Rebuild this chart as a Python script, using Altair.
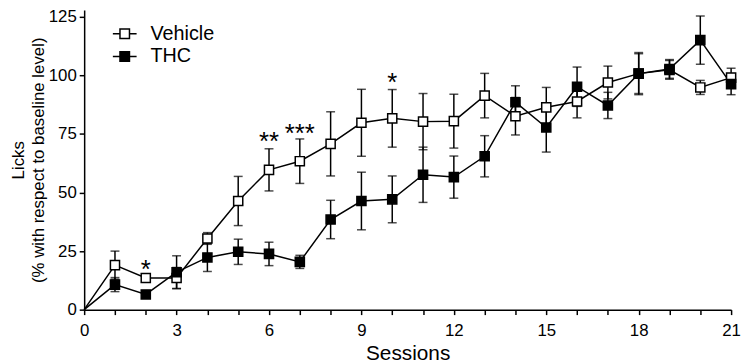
import altair as alt
import pandas as pd

# ---- data ----
sessions = list(range(1, 22))
groups = ["Vehicle", "THC"]
vehicle_mean = [19.0, 13.5, 13.5, 30.4, 46.4, 59.7, 63.4, 70.8, 79.8, 81.7, 80.3,
                80.5, 91.4, 82.6, 86.4, 88.9, 97.0, 100.8, 102.4, 94.9, 99.1]
vehicle_sem = [6.0, 1.5, 4.5, 2.5, 10.5, 9.0, 9.5, 13.7, 14.3, 12.3, 12.0,
               11.5, 9.5, 8.0, 8.5, 7.0, 7.0, 8.5, 4.0, 3.0, 4.0]
thc_mean = [10.7, 6.5, 16.0, 22.3, 24.7, 23.8, 20.4, 38.5, 46.4, 47.1, 57.6,
            56.6, 65.5, 88.6, 77.8, 95.2, 87.2, 100.8, 102.8, 115.1, 96.3]
thc_sem = [3.0, 1.5, 7.0, 6.0, 5.4, 5.0, 2.8, 8.2, 12.3, 10.0, 11.8,
           9.0, 8.8, 7.0, 10.5, 8.4, 5.6, 9.0, 4.0, 10.3, 4.5]

star_sessions = [2, 6, 7, 10]
star_labels = ["*", "**", "***", "*"]
star_y = [19.9, 74.4, 77.8, 99.5]

x_ticks = list(range(0, 22))
y_ticks = [0, 25, 50, 75, 100, 125]

FONT = "Liberation Sans"

rows = []
for g, m, s in ((groups[0], vehicle_mean, vehicle_sem), (groups[1], thc_mean, thc_sem)):
    for x, mv, sv in zip(sessions, m, s):
        rows.append({"group": g, "session": x, "mean": mv, "lo": mv - sv, "hi": mv + sv})
df = pd.DataFrame(rows)
origin = pd.DataFrame({"group": groups, "session": [0, 0], "mean": [0.0, 0.0]})
line_df = pd.concat([origin, df[["group", "session", "mean"]]], ignore_index=True)
stars = pd.DataFrame({"session": star_sessions, "label": star_labels, "y": star_y})

xscale = alt.Scale(domain=[0, 21], nice=False, zero=False)
yscale = alt.Scale(domain=[0, 128], nice=False)

x_axis = alt.Axis(values=x_ticks,
                  labelExpr="datum.value % 3 == 0 ? datum.label : ''",
                  labelOverlap=False, labelBound=False,
                  title="Sessions", titleFontSize=21, titlePadding=4,
                  labelPadding=8)
y_axis = alt.Axis(values=y_ticks,
                  title=["Licks", "(% with respect to baseline level)"],
                  labelOverlap=False,
                  titleFontSize=17, titleLineHeight=20, titlePadding=1,
                  labelPadding=3)

base = alt.Chart(df)

errbars = base.mark_errorbar(
    ticks={"size": 9, "thickness": 1.5, "color": "black"},
    rule={"strokeWidth": 1.5, "color": "black"},
    color="black",
).encode(
    x=alt.X("session:Q", scale=xscale, axis=x_axis),
    y=alt.Y("lo:Q", scale=yscale, axis=y_axis),
    y2="hi:Q",
    detail="group:N",
)

lines = alt.Chart(line_df).mark_line(color="black", strokeWidth=1.5).encode(
    x=alt.X("session:Q", scale=xscale, axis=x_axis),
    y=alt.Y("mean:Q", scale=yscale, axis=y_axis),
    detail="group:N",
)

legend_path = "M-1,0L-0.4,0M0.4,0L1,0M-0.4,-0.4L0.4,-0.4L0.4,0.4L-0.4,0.4Z"

points = base.mark_point(shape="square", size=85, stroke="black",
                         strokeWidth=1.5, opacity=1, fillOpacity=1).encode(
    x=alt.X("session:Q", scale=xscale, axis=x_axis),
    y=alt.Y("mean:Q", scale=yscale, axis=y_axis),
    fill=alt.Fill("group:N",
                  scale=alt.Scale(domain=groups, range=["white", "black"]),
                  legend=alt.Legend(title=None, orient="none", legendX=28, legendY=11,
                                    symbolType=legend_path, symbolSize=576,
                                    symbolStrokeColor="black", symbolStrokeWidth=1.5,
                                    labelFontSize=20, labelFont=FONT, labelColor="black",
                                    labelOffset=13, rowPadding=0, padding=0)),
)

star_text = alt.Chart(stars).mark_text(fontSize=26, font=FONT, color="black",
                                        baseline="alphabetic", dy=15).encode(
    x=alt.X("session:Q", scale=xscale, axis=x_axis),
    y=alt.Y("y:Q", scale=yscale, axis=y_axis),
    text="label:N",
)

chart = alt.layer(errbars, lines, points, star_text).properties(
    width=654, height=303,
    padding={"left": 77, "top": 0, "right": 10, "bottom": 53},
    autosize=alt.AutoSizeParams(type="none"),
).configure_view(stroke=None).configure_axis(
    grid=False, domainColor="black", domainWidth=1.5,
    tickColor="black", tickWidth=1.5, tickSize=5,
    labelFontSize=17, labelFont=FONT, labelColor="black",
    titleFont=FONT, titleColor="black", titleFontWeight="normal",
    labelFlush=False, labelOverlap=False,
)

chart.save("out.html", embed_options={"renderer": "svg", "actions": False})
